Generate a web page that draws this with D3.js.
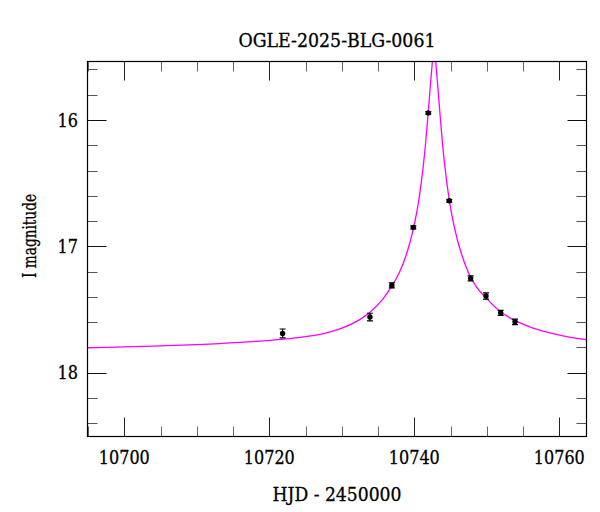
<!DOCTYPE html>
<html><head><meta charset="utf-8">
<script src="https://cdn.jsdelivr.net/npm/d3@7"></script>
<style>html,body{margin:0;padding:0;background:#fff}svg{display:block}</style>
</head><body>
<svg id="chart" width="600" height="512"></svg>
<script>
// ---- data ----
const titleText = "OGLE-2025-BLG-0061";
const xLabelText = "HJD - 2450000";
const yLabelText = "I magnitude";

const obsHJD = [10721.83, 10733.88, 10736.9, 10739.86, 10741.93, 10744.82, 10747.77, 10749.89, 10751.91, 10753.89];
const obsMag = [17.69, 17.56, 17.31, 16.85, 15.944, 16.64, 17.254, 17.394, 17.527, 17.598];
const obsErr = [0.035, 0.03, 0.02, 0.012, 0.01, 0.01, 0.02, 0.025, 0.02, 0.022];

// model light curve
const modelHJD = [10694.92, 10703.92, 10713.12, 10719.52, 10723.32, 10727.92, 10729.82, 10732.52, 10733.92, 10735.62,
                  10736.82, 10737.92, 10738.92, 10739.84, 10740.64, 10741.22, 10741.52, 10741.91, 10742.22, 10742.47, 10742.72,
                  10742.97, 10743.22, 10743.53, 10743.92, 10744.22, 10744.80, 10745.60, 10746.52, 10747.52, 10748.62,
                  10749.92, 10751.72, 10753.92, 10756.02, 10758.32, 10761.02, 10763.82];
const modelMag = [17.805, 17.79, 17.77, 17.747, 17.727, 17.685, 17.652, 17.579, 17.521, 17.421,
                  17.322, 17.21, 17.063, 16.869, 16.627, 16.371, 16.207, 15.944, 15.72, 15.55, 15.30,
                  15.55, 15.72, 15.944, 16.207, 16.371, 16.627, 16.869, 17.063, 17.215, 17.325,
                  17.41, 17.51, 17.589, 17.64, 17.68, 17.715, 17.74];

const xDomain = [10694.92, 10763.75];
const yDomain = [15.537, 18.506];
const xMajorTicks = [10700, 10720, 10740, 10760];
const xMinorTicks = [10695, 10705, 10710, 10715, 10725, 10730, 10735, 10745, 10750, 10755];
const yMajorTicks = [16, 17, 18];
const yMinorTicks = [15.6, 15.8, 16.2, 16.4, 16.6, 16.8, 17.2, 17.4, 17.6, 17.8, 18.2, 18.4];

// ---- layout ----
const L = 87.5, R = 586.5, T = 61.5, B = 436.5;
const FONT = "'DejaVu Serif', serif";
const svg = d3.select("#chart");
const x = d3.scaleLinear().domain(xDomain).range([L, R]);
const y = d3.scaleLinear().domain(yDomain).range([T, B]);
const px = v => Math.round(x(v)) + 0.5;
const py = v => Math.round(y(v)) + 0.5;

svg.append("rect").attr("width", 600).attr("height", 512).attr("fill", "#fff");

svg.append("clipPath").attr("id", "clip").append("rect")
  .attr("x", L).attr("y", T).attr("width", R - L).attr("height", B - T);

// ticks
const MAJ = 19, MIN = 10;
const tickG = svg.append("g").attr("stroke-width", 1).attr("fill", "none");
function xt(vals, len, col) {
  vals.forEach(v => {
    tickG.append("line").attr("x1", px(v)).attr("x2", px(v)).attr("y1", B).attr("y2", B - len).attr("stroke", col);
    tickG.append("line").attr("x1", px(v)).attr("x2", px(v)).attr("y1", T).attr("y2", T + len).attr("stroke", col);
  });
}
function yt(vals, len, col) {
  vals.forEach(v => {
    tickG.append("line").attr("y1", py(v)).attr("y2", py(v)).attr("x1", L).attr("x2", L + len).attr("stroke", col);
    tickG.append("line").attr("y1", py(v)).attr("y2", py(v)).attr("x1", R).attr("x2", R - len).attr("stroke", col);
  });
}
xt(xMinorTicks, MIN, "#666");
xt(xMajorTicks, MAJ, "#222");
yt(yMinorTicks, MIN, "#555");
yt(yMajorTicks, MAJ, "#111");

// model curve
const line = d3.line().x(d => x(d[0])).y(d => y(d[1])).curve(d3.curveMonotoneX);
svg.append("path")
  .datum(modelHJD.map((t, i) => [t, modelMag[i]]))
  .attr("clip-path", "url(#clip)")
  .attr("d", line)
  .attr("fill", "none").attr("stroke", "#ff00ff").attr("stroke-width", 1.3);

// observations
const og = svg.append("g").attr("clip-path", "url(#clip)");
obsHJD.forEach((t, i) => {
  const cx = x(t), m = obsMag[i], e = obsErr[i];
  const y1 = y(m - e), y2 = y(m + e);
  og.append("line").attr("x1", cx).attr("x2", cx).attr("y1", y1).attr("y2", y2).attr("stroke", "#000").attr("stroke-width", 1.2);
  [y1, y2].forEach(yy => og.append("line").attr("x1", cx - 3).attr("x2", cx + 3).attr("y1", yy).attr("y2", yy).attr("stroke", "#000").attr("stroke-width", 1.2));
  og.append("circle").attr("cx", cx).attr("cy", y(m)).attr("r", 2.7).attr("fill", "#000");
});

// frame
svg.append("rect").attr("x", L).attr("y", T).attr("width", R - L).attr("height", B - T)
  .attr("fill", "none").attr("stroke", "#000").attr("stroke-width", 1.2);

// text
function txt(g, xx, yy, s, len, anchor) {
  return g.append("text").attr("x", xx).attr("y", yy).attr("text-anchor", anchor || "middle")
    .attr("textLength", len).attr("lengthAdjust", "spacingAndGlyphs").text(s);
}
const lab = svg.append("g").attr("font-family", FONT).attr("font-size", 18).attr("fill", "#000")
  .attr("stroke", "#000").attr("stroke-width", 0.3);
xMajorTicks.forEach(v => txt(lab, x(v), 464, d3.format("d")(v), 51));
yMajorTicks.forEach(v => txt(lab, 78, y(v) + 6.7, d3.format("d")(v), 20.5, "end"));

txt(lab, 337, 47, titleText, 197);
txt(lab, 337, 501, xLabelText, 129);
lab.append("text").attr("transform", "translate(36,236) rotate(-90)").attr("text-anchor", "middle")
  .attr("textLength", 84).attr("lengthAdjust", "spacingAndGlyphs").text(yLabelText);
</script>
</body></html>
